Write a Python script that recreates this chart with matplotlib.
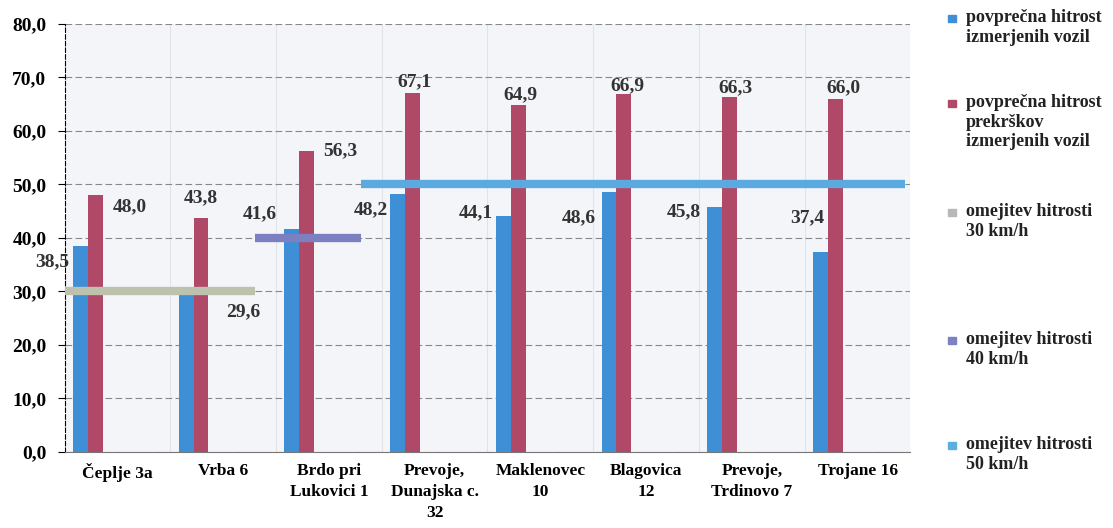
import matplotlib.pyplot as plt
from matplotlib.patches import Rectangle

# data
locations = ['Čeplje 3a', 'Vrba 6', 'Brdo pri\nLukovici 1', 'Prevoje,\nDunajska c.\n32',
             'Maklenovec\n10', 'Blagovica\n12', 'Prevoje,\nTrdinovo 7', 'Trojane 16']
avg_speed = [38.5, 29.6, 41.6, 48.2, 44.1, 48.6, 45.8, 37.4]
avg_offence = [48.0, 43.8, 56.3, 67.1, 64.9, 66.9, 66.3, 66.0]
speed_limit = [30, 30, 40, 50, 50, 50, 50, 50]
legend_labels = ['povprečna hitrost\nizmerjenih vozil',
                 'povprečna hitrost\nprekrškov\nizmerjenih vozil',
                 'omejitev hitrosti\n30 km/h',
                 'omejitev hitrosti\n40 km/h',
                 'omejitev hitrosti\n50 km/h']

# label offsets in pixels (the labels in the original are placed by hand)
blue_off = [(-28, -16), (57, -18), (-32, 16), (-27, -16), (-28, 3), (-30, -26), (-31, -5), (-13, 34)]
red_off = [(35, -12), (0, 20), (34, 0), (2, 11), (2, 10), (4, 8), (6, 9), (8, 11)]

plt.rcParams['font.family'] = ['Liberation Serif', 'DejaVu Serif']
plt.rcParams['font.weight'] = 'bold'

blue = '#3F8FD6'
red = '#B04868'
lim_colors = {30: '#BDC2AE', 40: '#7C80C0', 50: '#5AAAE0'}
legend_colors = [blue, red, '#B8B8B8', '#7C80C4', '#5AAEE0']

fig = plt.figure(figsize=(11.13, 5.28), dpi=100)
ax = fig.add_axes([0.058, 0.144, 0.76, 0.811])
ax.set_facecolor('#F3F5F9')

x = list(range(len(locations)))
w = 0.14
shift = 0.28
bx = [i - shift - w / 2 for i in x]
rx = [i - shift + w / 2 for i in x]
ax.bar(bx, avg_speed, w, color=blue, zorder=3)
ax.bar(rx, avg_offence, w, color=red, zorder=3)

# speed limit lines, one per group of same limit
groups = []
for i, v in enumerate(speed_limit):
    if groups and groups[-1][0] == v:
        groups[-1][2] = i
    else:
        groups.append([v, i, i])
for v, a, b in groups:
    start = max(a - 0.7, -0.5)
    end = b + 0.3 if b < len(x) - 1 else b + 0.45
    ax.plot([start, end], [v, v], color=lim_colors[v], lw=6, zorder=4,
            solid_capstyle='butt')

for i in x:
    ax.annotate(f'{avg_speed[i]:.1f}'.replace('.', ','), (bx[i], avg_speed[i]),
                xytext=blue_off[i], textcoords='offset pixels', ha='center', va='center',
                fontsize=14, fontweight='bold', color='#333333', zorder=5)
    ax.annotate(f'{avg_offence[i]:.1f}'.replace('.', ','), (rx[i], avg_offence[i]),
                xytext=red_off[i], textcoords='offset pixels', ha='center', va='center',
                fontsize=14, fontweight='bold', color='#333333', zorder=5)

ax.set_xlim(-0.5, 7.5)
ax.set_ylim(0, 80)
ax.set_yticks(range(0, 81, 10))
ax.set_yticklabels([f'{v},0' for v in range(0, 81, 10)], fontsize=14, fontweight='bold')
ax.set_xticks(x)
ax.set_xticklabels(locations, fontsize=12.5, fontweight='bold', linespacing=1.4)
ax.tick_params(axis='x', length=0, pad=8)
ax.tick_params(axis='y', length=5, direction='out', width=0.8, pad=8)

ax.grid(axis='y', color='#888888', lw=0.8, ls=(0, (6, 3)), zorder=1)
for i in x:
    ax.axvline(i + 0.5, color='#E0E3E8', lw=0.8, zorder=1)
for s in ['top', 'right']:
    ax.spines[s].set_visible(False)
ax.spines['left'].set_linestyle((0, (4, 2)))
ax.spines['left'].set_linewidth(0.8)
ax.spines['bottom'].set_color('#777777')

# legend drawn by hand: square aligned with the first text line
leg_y = [0.966, 0.805, 0.598, 0.356, 0.157]
for lab, c, y in zip(legend_labels, legend_colors, leg_y):
    fig.patches.append(Rectangle((0.852, y - 0.007), 0.0065, 0.0135, color=c,
                                 transform=fig.transFigure, figure=fig))
    fig.text(0.868, y + 0.017, lab, fontsize=13, fontweight='bold', va='top',
             ha='left', linespacing=1.2, color='#222222')

fig.savefig('out.png', dpi=100)
